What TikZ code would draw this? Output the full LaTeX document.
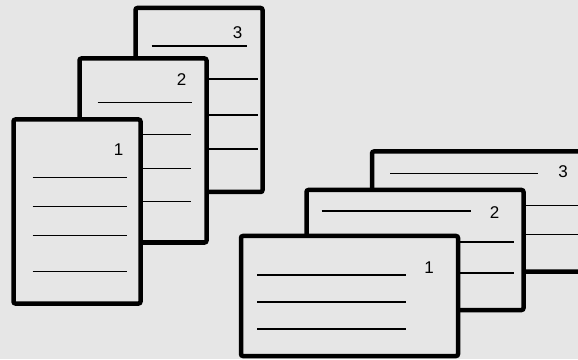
\documentclass[tikz,border=0pt]{standalone}
\usepackage{fontspec}
\setmainfont{Liberation Sans}
\usetikzlibrary{positioning}
\definecolor{sheetgray}{RGB}{230,230,230}

\begin{document}
\begin{tikzpicture}[
  x=1pt, y=1pt,
  sheet/.style={
    draw=black, line width=4.5pt, fill=sheetgray, rounded corners=2pt,
    inner sep=0pt, outer sep=0pt
  },
  tallsheet/.style={sheet, minimum width=127pt, minimum height=184pt},
  widesheet/.style={sheet, minimum width=217pt, minimum height=120pt},
  textline/.style={draw=black, line width=1.8pt},
  pagenum/.style={inner sep=0pt, font=\fontsize{17}{19}\selectfont}
]
\fill[sheetgray] (0,0) rectangle (578,359);
\useasboundingbox (0,0) rectangle (578,359);
\clip (0,0) rectangle (578,359);

% portrait stack
\node[tallsheet] (p3) at (199, 259) {};
\draw[textline] ([shift={(16,-38)}]p3.north west) -- ([shift={(-16,-38)}]p3.north east);
\foreach \dy in {71,107,141}
  \draw[textline] ([shift={(16,-\dy)}]p3.north west) -- ([shift={(-5,-\dy)}]p3.north east);
\node[pagenum] (n3) at ([shift={(-25,-25)}]p3.north east) {3};

\node[tallsheet] (p2) at (143, 208.5) {};
\draw[textline] ([shift={(18,-44)}]p2.north west) -- ([shift={(-15,-44)}]p2.north east);
\foreach \dy in {76,110,143}
  \draw[textline] ([shift={(18,-\dy)}]p2.north west) -- ([shift={(-16,-\dy)}]p2.north east);
\node[pagenum] (n2) at ([shift={(-25,-21)}]p2.north east) {2};

\node[tallsheet] (p1) at (77, 147.5) {};
\foreach \dy in {58,87,116,152}
  \draw[textline] ([shift={(19,-\dy)}]p1.north west) -- ([shift={(-14,-\dy)}]p1.north east);
\node[pagenum] (n1) at ([shift={(-22,-30)}]p1.north east) {1};

% landscape stack
\node[widesheet] (q3) at (480.5, 147.5) {};
\draw[textline] ([shift={(18,-22)}]q3.north west) -- ([shift={(-51,-22)}]q3.north east);
\foreach \dy in {54,83}
  \draw[textline] ([shift={(18,-\dy)}]q3.north west) -- ([shift={(-10,-\dy)}]q3.north east);
\node[pagenum] (m3) at ([shift={(-26,-20)}]q3.north east) {3};

\node[widesheet] (q2) at (415, 109) {};
\draw[textline] ([shift={(15,-21)}]q2.north west) -- ([shift={(-53,-21)}]q2.north east);
\foreach \dy in {52,83}
  \draw[textline] ([shift={(15,-\dy)}]q2.north west) -- ([shift={(-10,-\dy)}]q2.north east);
\node[pagenum] (m2) at ([shift={(-29,-23)}]q2.north east) {2};

\node[widesheet] (q1) at (349.5, 63) {};
\foreach \dy in {39,66,93}
  \draw[textline] ([shift={(16,-\dy)}]q1.north west) -- ([shift={(-52,-\dy)}]q1.north east);
\node[pagenum] (m1) at ([shift={(-29,-32)}]q1.north east) {1};
\end{tikzpicture}
\end{document}
